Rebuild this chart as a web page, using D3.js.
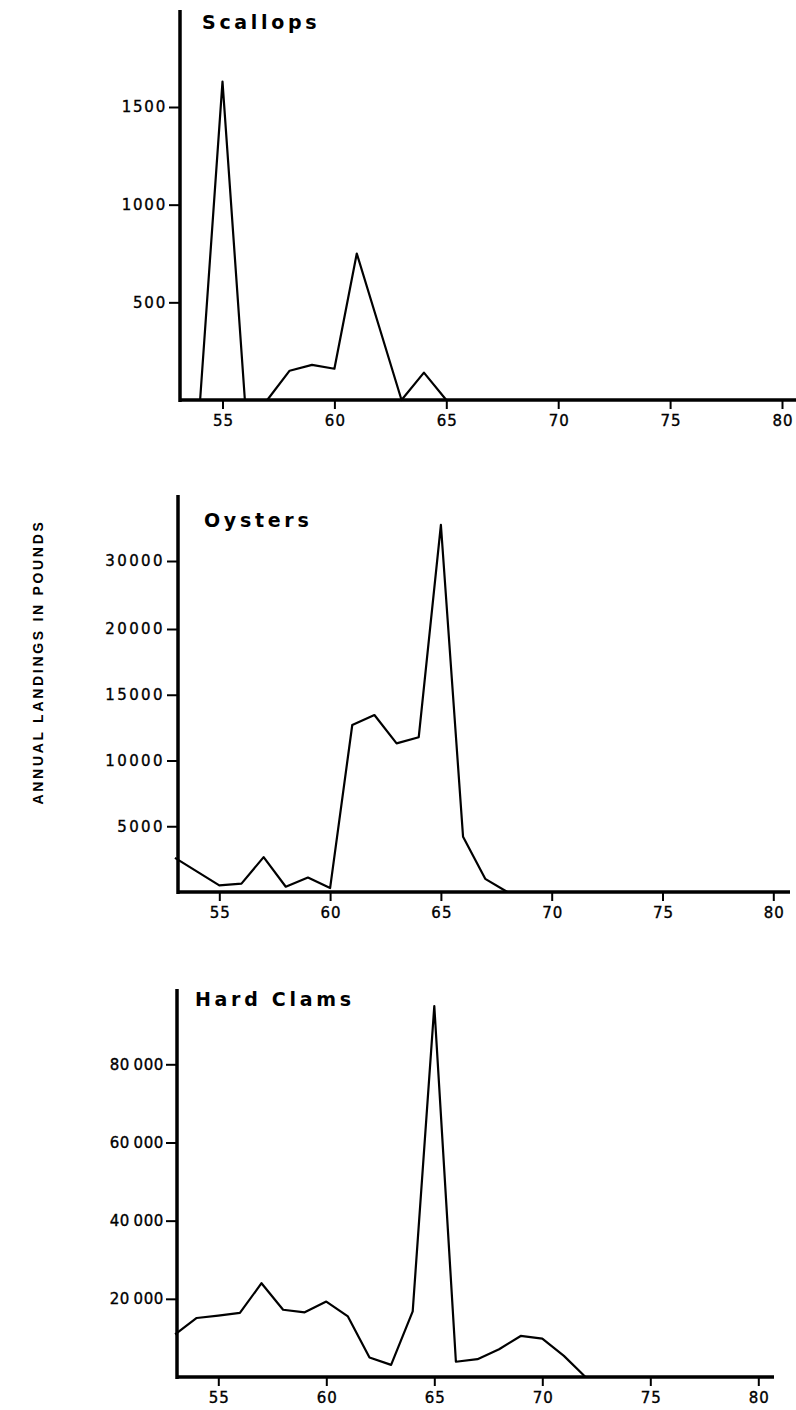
<!DOCTYPE html>
<html>
<head>
<meta charset="utf-8">
<script src="https://cdn.jsdelivr.net/npm/d3@7"></script>
<style>
  body { margin: 0; background: #fff; }
  text { font-family: "DejaVu Sans", "Liberation Sans", Arial, sans-serif; fill: #000; }
</style>
</head>
<body>
<div id="chart"></div>
<script>
// Years on the x axis (19xx)
const years = [53, 54, 55, 56, 57, 58, 59, 60, 61, 62, 63, 64, 65, 66, 67,
               68, 69, 70, 71, 72, 73, 74, 75, 76, 77, 78, 79, 80];

// Annual landings in pounds
const scallops = [null, 0, 1630, 0, 0, 150, 180, 160, 750, 375, 0, 140, 0, 0, 0,
                  0, 0, 0, 0, 0, 0, 0, 0, 0, 0, 0, 0, 0];
const oysters = [2600, 1550, 500, 640, 2650, 400, 1100, 300, 12700, 13460, 11300, 11770, 35300, 4200, 1000,
                 0, 0, 0, 0, 0, 0, 0, 0, 0, 0, 0, 0, 0];
const hardClams = [10900, 15100, 15700, 16400, 24000, 17200, 16550, 19300, 15500, 5000, 3100, 16800, 94900, 3900, 4560,
                   7100, 10500, 9800, 5400, 0, 0, 0, 0, 0, 0, 0, 0, 0];

// Tick values and labels
const xTicks = [55, 60, 65, 70, 75, 80];
const scallopTicks = [500, 1000, 1500];
const oysterTicks = [5000, 10000, 15000, 20000, 30000];
const clamTicks = [20000, 40000, 60000, 80000];
const clamTickLabels = ["20\u2009000", "40\u2009000", "60\u2009000", "80\u2009000"];

const axisTitle = "ANNUAL LANDINGS IN POUNDS";

// panel layout (pixel positions of each small chart)
const panels = [
  { title: "Scallops", values: scallops, ticks: scallopTicks, labels: null, spacing: 1.8,
    yDomain: [0, 1500], yRange: [400, 107],
    x55: 222.5, x80: 782, axisX: 180, top: 10, xEnd: 796,
    titleX: 202, titleY: 29 },
  { title: "Oysters", values: oysters, ticks: oysterTicks, labels: null, spacing: 2.4,
    // the printed axis is compressed above 20000
    yDomain: [0, 20000, 30000], yRange: [892, 629, 561],
    x55: 219.3, x80: 773.3, axisX: 178, top: 495, xEnd: 790,
    titleX: 204, titleY: 527 },
  { title: "Hard Clams", values: hardClams, ticks: clamTicks, labels: clamTickLabels, spacing: 0.6,
    yDomain: [0, 80000], yRange: [1377, 1064.3],
    x55: 218.3, x80: 758.3, axisX: 177, top: 989, xEnd: 774,
    titleX: 195, titleY: 1006 }
];

const svg = d3.select("#chart")
              .append("svg")
              .attr("width", 796)
              .attr("height", 1410);

panels.forEach(function(p) {
    const x = d3.scaleLinear()
                .domain([55, 80])
                .range([p.x55, p.x80]);

    const y = d3.scaleLinear()
                .domain(p.yDomain)
                .range(p.yRange);

    const base = y(0);

    // x ticks + labels
    const xAxis = svg.append("g")
       .attr("transform", `translate(0, ${base})`)
       .call(d3.axisBottom(x).tickValues(xTicks).tickSize(9).tickPadding(6).tickFormat(d => d));
    xAxis.select(".domain").remove();
    xAxis.selectAll("line").attr("stroke", "#000").attr("stroke-width", 2);
    xAxis.selectAll("text")
         .style("font-size", "15px")
         .style("letter-spacing", "1px")
         .attr("stroke", "#000")
         .attr("stroke-width", 0.35)
         .attr("dx", "0.5px");

    // y ticks + labels
    const yAxis = svg.append("g")
       .attr("transform", `translate(${p.axisX}, 0)`)
       .call(d3.axisLeft(y).tickValues(p.ticks).tickSize(11).tickPadding(2)
               .tickFormat((d, i) => p.labels ? p.labels[i] : d));
    yAxis.select(".domain").remove();
    yAxis.selectAll("line").attr("stroke", "#000").attr("stroke-width", 2);
    yAxis.selectAll("text")
         .style("font-size", "15px")
         .style("letter-spacing", p.spacing + "px")
         .attr("stroke", "#000")
         .attr("stroke-width", 0.35);

    // heavy axis lines
    svg.append("line")
       .attr("x1", p.axisX).attr("x2", p.axisX)
       .attr("y1", p.top).attr("y2", base + 2)
       .attr("stroke", "#000").attr("stroke-width", 3.5);

    svg.append("line")
       .attr("x1", p.axisX).attr("x2", p.xEnd)
       .attr("y1", base).attr("y2", base)
       .attr("stroke", "#000").attr("stroke-width", 3.5);

    // the series line
    const line = d3.line()
                   .defined(d => d[1] !== null)
                   .x(d => x(d[0]))
                   .y(d => y(d[1]));

    svg.append("path")
       .datum(years.map((yr, i) => [yr, p.values[i]]))
       .attr("fill", "none")
       .attr("stroke", "#000")
       .attr("stroke-width", 2.2)
       .attr("stroke-linejoin", "round")
       .attr("d", line);

    // panel title
    svg.append("text")
       .attr("x", p.titleX)
       .attr("y", p.titleY)
       .style("font-size", "19px")
       .style("font-weight", "bold")
       .style("letter-spacing", "3.7px")
       .text(p.title);
});

// shared y-axis title
svg.append("text")
   .attr("transform", "translate(43, 662) rotate(-90)")
   .attr("text-anchor", "middle")
   .style("font-family", "'Liberation Sans', Arial, sans-serif")
   .style("font-size", "14px")
   .style("font-weight", "bold")
   .style("letter-spacing", "2.7px")
   .text(axisTitle);
</script>
</body>
</html>
